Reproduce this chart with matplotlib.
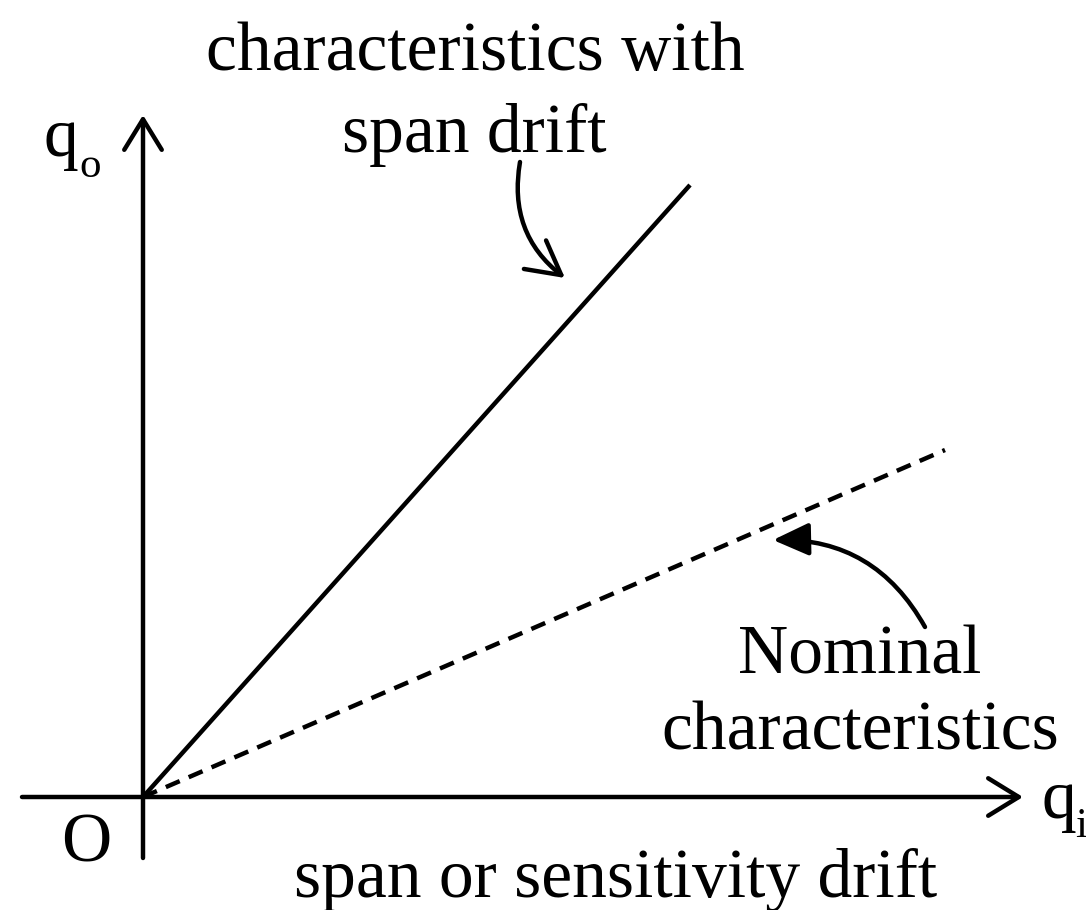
import matplotlib
matplotlib.use("Agg")
import matplotlib.pyplot as plt

# Data (pixel-like units, origin at O, y upward)
origin = (0, 0)
span_drift_end = (547, 612)
nominal_end = (802, 347)
x_axis_range = (-121, 880)
y_axis_range = (-61, 682)

top_lines = ["characteristics with", "span drift"]
nominal_lines = ["Nominal", "characteristics"]
bottom_label = "span or sensitivity drift"
origin_label = "O"

fig = plt.figure(figsize=(10.86, 9.10), dpi=100)
ax = fig.add_axes([0, 0, 1, 1])
ax.set_xlim(-143, 943)
ax.set_ylim(-113, 797)
ax.axis("off")

lw = 3.2
font = "Liberation Serif"
fs = 50

# axes with open arrow heads
head = "->,head_length=2.2,head_width=1.35"
ax.annotate("", xy=(x_axis_range[1], 0), xytext=(x_axis_range[0], 0),
            arrowprops=dict(arrowstyle=head, lw=lw, color="black", shrinkA=0, shrinkB=0))
ax.annotate("", xy=(0, y_axis_range[1]), xytext=(0, y_axis_range[0]),
            arrowprops=dict(arrowstyle=head, lw=lw, color="black", shrinkA=0, shrinkB=0))

# characteristic lines
ax.plot([origin[0], span_drift_end[0]], [origin[1], span_drift_end[1]], color="black", lw=lw,
        solid_capstyle="butt")
ax.plot([origin[0], nominal_end[0]], [origin[1], nominal_end[1]], color="black", lw=lw,
        linestyle=(0, (3.4, 2.2)))

# labels
ax.text(332, 727, top_lines[0], ha="center", va="baseline", fontsize=fs, family=font)
ax.text(331, 645, top_lines[1], ha="center", va="baseline", fontsize=fs, family=font)
ax.text(717, 124, nominal_lines[0], ha="center", va="baseline", fontsize=fs, family=font)
ax.text(717, 47, nominal_lines[1], ha="center", va="baseline", fontsize=fs, family=font)
ax.text(473, -100, bottom_label, ha="center", va="baseline", fontsize=fs, family=font)
ax.text(-57, -65, origin_label, ha="center", va="baseline", fontsize=fs, family=font)

# axis labels q_o and q_i
ax.text(-99, 641, "q", ha="left", va="baseline", fontsize=fs, family=font)
ax.text(-64, 620, "o", ha="left", va="baseline", fontsize=fs * 0.62, family=font)
ax.text(899, -21, "q", ha="left", va="baseline", fontsize=fs, family=font)
ax.text(932, -40, "i", ha="left", va="baseline", fontsize=fs * 0.62, family=font)

# curved arrows
ax.annotate("", xy=(422, 519), xytext=(377, 635),
            arrowprops=dict(arrowstyle="->,head_length=2.4,head_width=1.3", lw=lw, color="black",
                            connectionstyle="arc3,rad=0.3", shrinkA=0, shrinkB=0))
ax.annotate("", xy=(630, 257), xytext=(782, 170),
            arrowprops=dict(arrowstyle="-|>,head_length=2.2,head_width=1.0", lw=lw, color="black",
                            connectionstyle="arc3,rad=0.3", shrinkA=0, shrinkB=0))

fig.savefig("out.png", dpi=100)
